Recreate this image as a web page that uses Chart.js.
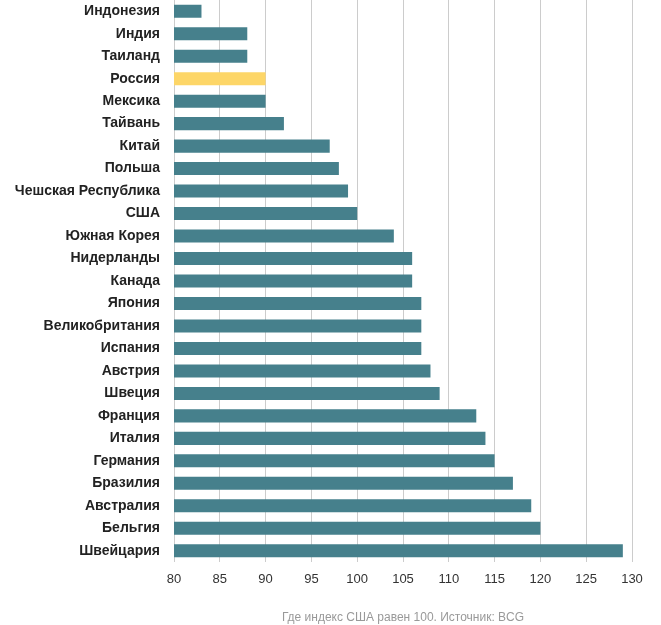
<!DOCTYPE html>
<html><head><meta charset="utf-8">
<script src="https://cdn.jsdelivr.net/npm/chart.js@4/dist/chart.umd.min.js"></script>
<style>html,body{margin:0;padding:0;background:#fff}#wrap{width:661px;height:625px;position:relative}</style>
</head><body><div id="wrap"><canvas id="c"></canvas></div>
<script>
const categories = ["Индонезия","Индия","Таиланд","Россия","Мексика","Тайвань","Китай","Польша","Чешская Республика","США","Южная Корея","Нидерланды","Канада","Япония","Великобритания","Испания","Австрия","Швеция","Франция","Италия","Германия","Бразилия","Австралия","Бельгия","Швейцария"];
const values = [83,88,88,90,90,92,97,98,99,100,104,106,106,107,107,107,108,109,113,114,115,117,119,120,129];
const highlight = "Россия";
const axisTitle = "Где индекс США равен 100. Источник: BCG";
const xMin = 80, xMax = 130, xStep = 5;

const colors = categories.map(c => c === highlight ? "#fdd668" : "#46808c");

new Chart(document.getElementById("c"), {
  type: "bar",
  data: { labels: categories, datasets: [{ data: values, backgroundColor: colors, borderWidth: 0, categoryPercentage: 1, barPercentage: 0.58 }] },
  options: {
    indexAxis: "y",
    responsive: true, maintainAspectRatio: false, animation: false,
    layout: { padding: { left: 0, right: 29, top: 0, bottom: 0 } },
    plugins: { legend: { display: false }, tooltip: { enabled: false } },
    scales: {
      x: {
        min: xMin, max: xMax,
        ticks: { stepSize: xStep, color: "#333", font: { family: "Liberation Sans", size: 13 }, padding: 10, maxRotation: 0 },
        grid: { color: "#cccccc", lineWidth: 1, drawTicks: false },
        border: { display: false },
        title: { display: true, text: axisTitle, color: "#999", font: { family: "Liberation Sans", size: 12 }, padding: { top: 0, bottom: 0 } },
        afterFit: s => { s.height = 63; s.paddingLeft = 0; s.paddingRight = 0; }
      },
      y: {
        ticks: { color: "#222", font: { family: "Liberation Sans", size: 14, weight: "bold" }, padding: 14, autoSkip: false },
        grid: { display: false, drawTicks: false },
        border: { display: false },
        afterFit: s => { s.width = 174; s.paddingTop = 0; s.paddingBottom = 0; }
      }
    }
  }
});
</script></body></html>
